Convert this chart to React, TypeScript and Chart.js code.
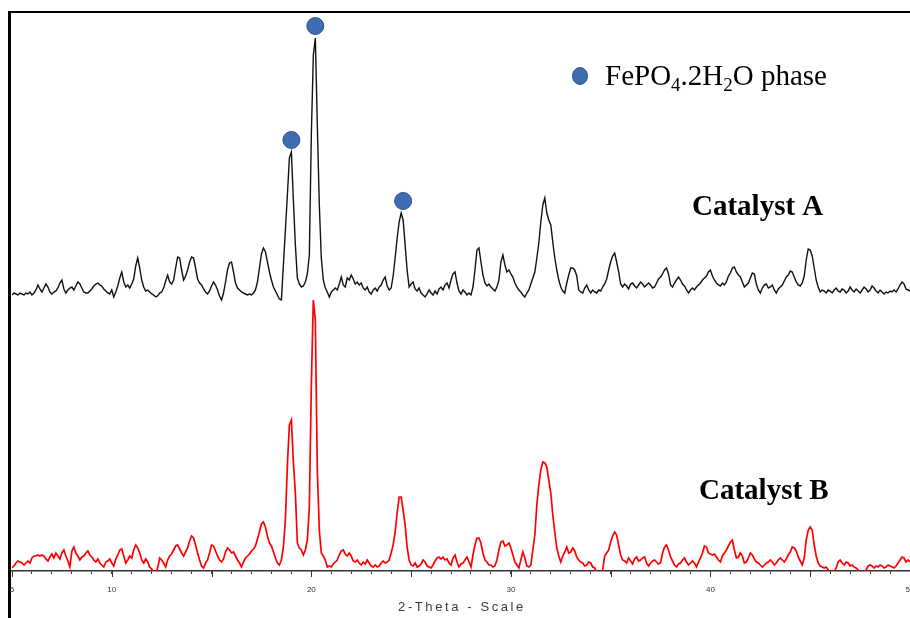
import { useEffect, useRef } from 'react';
import { Chart, registerables } from 'chart.js';

Chart.register(...registerables);

// Scan grid: 2-theta from 5 to 50 degrees in 0.1 degree steps
const THETA_START = 5;
const THETA_STEP = 0.1;

// Catalyst A intensities (a.u.), one value per step
const CATALYST_A = [
  11, 13, 12, 11, 13, 12, 11, 13, 12, 14,
  11, 13, 16, 21, 17, 14, 18, 22, 19, 14,
  12, 14, 15, 18, 23, 26, 17, 13, 16, 18,
  19, 16, 20, 24, 22, 18, 14, 13, 13, 15,
  17, 20, 22, 23, 21, 20, 17, 15, 13, 12,
  16, 9, 14, 20, 28, 34, 24, 19, 21, 18,
  22, 27, 40, 48, 38, 26, 19, 15, 16, 14,
  12, 11, 9, 10, 13, 14, 18, 25, 31, 24,
  22, 26, 38, 49, 48, 36, 26, 30, 36, 44,
  49, 48, 38, 27, 23, 21, 17, 14, 12, 15,
  20, 24, 21, 16, 10, 6, 13, 24, 36, 43,
  44, 34, 23, 18, 16, 14, 13, 12, 11, 12,
  11, 13, 16, 24, 38, 52, 58, 54, 44, 34,
  26, 19, 15, 11, 7, 6, 41, 76, 111, 148,
  154, 106, 61, 28, 22, 19, 20, 24, 32, 51,
  171, 251, 268, 181, 101, 48, 26, 18, 14, 9,
  14, 16, 18, 16, 22, 29, 21, 19, 28, 26,
  31, 27, 22, 24, 21, 23, 18, 16, 19, 14,
  12, 16, 18, 15, 19, 21, 26, 29, 20, 16,
  18, 30, 48, 68, 84, 93, 86, 61, 36, 19,
  22, 24, 17, 15, 18, 13, 11, 9, 12, 16,
  13, 11, 15, 12, 17, 19, 16, 21, 23, 18,
  26, 32, 34, 23, 15, 12, 16, 14, 11, 13,
  11, 19, 36, 56, 58, 44, 31, 23, 20, 22,
  19, 17, 15, 19, 26, 44, 51, 41, 34, 36,
  32, 29, 23, 19, 16, 14, 11, 9, 13, 16,
  22, 28, 34, 48, 63, 84, 101, 108, 93, 86,
  81, 64, 48, 36, 26, 19, 15, 13, 23, 31,
  38, 38, 36, 30, 16, 14, 13, 18, 21, 16,
  13, 16, 14, 13, 16, 15, 19, 22, 27, 36,
  44, 50, 53, 44, 34, 22, 19, 22, 20, 17,
  22, 23, 20, 18, 21, 24, 22, 19, 21, 23,
  21, 18, 19, 23, 27, 29, 32, 36, 38, 32,
  21, 19, 23, 26, 29, 26, 22, 20, 16, 13,
  16, 18, 16, 19, 21, 23, 26, 28, 30, 34,
  36, 30, 26, 23, 21, 20, 23, 21, 24, 30,
  33, 38, 39, 34, 31, 29, 24, 19, 21, 23,
  28, 33, 32, 22, 16, 13, 18, 21, 22, 18,
  19, 21, 16, 13, 17, 19, 21, 25, 29, 31,
  35, 34, 29, 24, 21, 20, 23, 30, 46, 57,
  56, 50, 38, 26, 19, 14, 16, 15, 13, 16,
  15, 13, 16, 18, 15, 14, 17, 16, 13, 15,
  19, 16, 14, 17, 15, 13, 16, 19, 17, 14,
  16, 20, 18, 15, 13, 16, 14, 12, 14, 13,
  15, 14, 16, 14, 17, 21, 24, 22, 17, 16,
  15,
];

// Catalyst B intensities (a.u.), one value per step
const CATALYST_B = [
  3, 5, 8, 10, 9, 8, 6, 8, 10, 8,
  13, 15, 15, 16, 15, 16, 15, 12, 10, 14,
  17, 13, 18, 15, 12, 18, 21, 15, 10, 4,
  20, 24, 18, 15, 11, 14, 15, 18, 20, 16,
  14, 11, 9, 12, 8, 6, 4, 9, 10, 12,
  8, 5, 12, 16, 21, 22, 15, 8, 11, 15,
  13, 21, 26, 23, 18, 11, 8, 12, 9, 4,
  2, -1, -2, 3, 13, 11, 8, 4, 11, 15,
  17, 21, 25, 26, 22, 18, 15, 19, 23, 30,
  35, 33, 26, 18, 11, 5, 3, 8, 11, 18,
  26, 25, 20, 15, 11, 9, 12, 19, 23, 21,
  18, 19, 15, 11, 8, 4, 9, 13, 15, 17,
  20, 22, 25, 32, 39, 47, 49, 44, 35, 28,
  25, 19, 13, 8, 6, 11, 24, 51, 106, 146,
  151, 109, 78, 28, 23, 21, 16, 21, 31, 64,
  186, 271, 251, 101, 41, 18, 15, 11, 4, 5,
  4, 7, 9, 11, 16, 20, 21, 17, 15, 18,
  15, 10, 9, 11, 8, 6, 9, 7, 11, 8,
  5, 4, 6, 4, 5, 8, 10, 8, 9, 11,
  18, 26, 39, 58, 74, 74, 61, 46, 24, 11,
  6, 5, 8, 4, 5, 7, 11, 9, 5, 4,
  3, 6, 10, 13, 14, 12, 14, 11, 12, 8,
  6, 13, 16, 9, 4, 7, 8, 11, 14, 9,
  4, 16, 26, 33, 33, 28, 18, 11, 9, 6,
  6, 4, 5, 11, 21, 29, 30, 25, 26, 28,
  23, 16, 9, 6, 3, 11, 19, 13, 5, 4,
  6, 21, 36, 66, 86, 101, 109, 108, 104, 91,
  78, 56, 39, 23, 15, 9, 15, 19, 24, 18,
  19, 23, 20, 14, 11, 9, 8, 5, 6, 9,
  8, 4, 3, -1, -2, -2, 1, 15, 18, 21,
  29, 35, 39, 36, 26, 16, 11, 10, 8, 13,
  10, 7, 12, 14, 10, 11, 13, 14, 8, 5,
  8, 10, 11, 9, 7, 8, 18, 24, 26, 21,
  14, 10, 6, 4, 7, 8, 11, 13, 9, 6,
  8, 10, 8, 4, 9, 13, 18, 25, 24, 18,
  17, 16, 17, 14, 11, 9, 15, 18, 21, 25,
  29, 31, 21, 13, 14, 18, 15, 8, 9, 13,
  18, 16, 12, 9, 8, 6, 4, 6, 8, 9,
  11, 9, 6, 8, 11, 13, 11, 9, 12, 16,
  19, 24, 23, 20, 14, 10, 6, 13, 31, 41,
  44, 41, 26, 15, 8, 5, 4, 3, 4, 1,
  -2, -2, -1, 3, 9, 11, 8, 6, 9, 8,
  5, 6, 4, 3, 1, -1, -2, -1, 1, 5,
  6, 5, 3, 5, 4, 6, 5, 3, 4, 6,
  5, 4, 3, 5, 8, 11, 14, 13, 9, 11,
  9,
];

// Vertical shift that stacks Catalyst A above Catalyst B
const A_OFFSET = 265;

// Reflections assigned to the FePO4.2H2O phase (2-theta, degrees)
const PHASE_PEAKS = [19.0, 20.2, 24.6];

// Axis ticks
const X_LABELS = [5, 10, 20, 30, 40, 50];
const MAJOR_TICKS = [5, 10, 15, 20, 25, 30, 35, 40, 45, 50];

const SERIES_A_NAME = 'Catalyst A';
const SERIES_B_NAME = 'Catalyst B';
const AXIS_TITLE = '2-Theta - Scale';

const MARKER_FILL = '#3f6db2';
const MARKER_EDGE = '#2c5491';
const SERIF = '"Liberation Serif", "Times New Roman", serif';
const SANS = '"Liberation Sans", Arial, sans-serif';

const thetaAt = (i: number) => Math.round((THETA_START + i * THETA_STEP) * 10) / 10;

// Marker sits just above the local maximum of the Catalyst A trace
function markerY(theta: number) {
  const c = Math.round((theta - THETA_START) / THETA_STEP);
  let m = -Infinity;
  for (let k = c - 2; k <= c + 2; k++) {
    if (k >= 0 && k < CATALYST_A.length) m = Math.max(m, CATALYST_A[k]);
  }
  return m + A_OFFSET + 12;
}

type Run = { t: string; sub?: boolean };

function drawRuns(ctx: CanvasRenderingContext2D, x: number, y: number, runs: Run[], size: number) {
  for (const r of runs) {
    const s = r.sub ? Math.round(size * 0.64) : size;
    ctx.font = `${s}px ${SERIF}`;
    ctx.fillText(r.t, x, r.sub ? y + size * 0.2 : y);
    x += ctx.measureText(r.t).width;
  }
}

const overlay = {
  id: 'xrdOverlay',
  afterDraw(chart: any) {
    const { ctx, chartArea } = chart;
    const xs = chart.scales.x;
    ctx.save();

    // frame: heavy left rule and top rule
    ctx.fillStyle = '#000';
    ctx.fillRect(chartArea.left - 4, chartArea.top, 3, chart.height - chartArea.top);
    ctx.fillRect(chartArea.left - 4, chartArea.top, chartArea.right - chartArea.left + 4, 2);

    // longer major ticks every 5 degrees
    ctx.strokeStyle = '#333';
    ctx.lineWidth = 1;
    for (const v of MAJOR_TICKS) {
      const px = Math.round(xs.getPixelForValue(v)) + 0.5;
      ctx.beginPath();
      ctx.moveTo(px, chartArea.bottom);
      ctx.lineTo(px, chartArea.bottom + 6);
      ctx.stroke();
    }

    // axis title
    ctx.fillStyle = '#3a3a3a';
    ctx.font = `13px ${SANS}`;
    (ctx as any).letterSpacing = '2.6px';
    ctx.textAlign = 'center';
    ctx.textBaseline = 'middle';
    ctx.fillText(AXIS_TITLE, (chartArea.left + chartArea.right) / 2 + 1, 607);
    (ctx as any).letterSpacing = '0px';

    // legend for the phase markers
    ctx.beginPath();
    ctx.ellipse(580, 76, 7.5, 8.5, 0, 0, Math.PI * 2);
    ctx.fillStyle = MARKER_FILL;
    ctx.fill();
    ctx.strokeStyle = MARKER_EDGE;
    ctx.lineWidth = 1;
    ctx.stroke();

    ctx.fillStyle = '#000';
    ctx.textAlign = 'left';
    ctx.textBaseline = 'alphabetic';
    drawRuns(ctx, 605, 85, [
      { t: 'FePO' }, { t: '4', sub: true }, { t: '.2H' }, { t: '2', sub: true }, { t: 'O phase' },
    ], 29);

    // series labels
    ctx.font = `bold 29px ${SERIF}`;
    ctx.fillText(SERIES_A_NAME, 692, 215);
    ctx.fillText(SERIES_B_NAME, 699, 499);

    ctx.restore();
  },
};

export default function App() {
  const canvasRef = useRef<HTMLCanvasElement | null>(null);

  useEffect(() => {
    const canvas = canvasRef.current;
    if (!canvas) return;

    const dataA = CATALYST_A.map((v, i) => ({ x: thetaAt(i), y: v + A_OFFSET }));
    const dataB = CATALYST_B.map((v, i) => ({ x: thetaAt(i), y: v }));
    const markers = PHASE_PEAKS.map((t) => ({ x: t, y: markerY(t) }));

    const chart = new Chart(canvas, {
      type: 'line',
      data: {
        datasets: [
          {
            label: 'FePO4.2H2O phase',
            data: markers,
            showLine: false,
            pointRadius: 8.5,
            pointHoverRadius: 8.5,
            pointBackgroundColor: MARKER_FILL,
            pointBorderColor: MARKER_EDGE,
            pointBorderWidth: 1,
            order: 0,
          },
          {
            label: SERIES_A_NAME,
            data: dataA,
            borderColor: '#111111',
            borderWidth: 1.4,
            pointRadius: 0,
            tension: 0,
            order: 1,
          },
          {
            label: SERIES_B_NAME,
            data: dataB,
            borderColor: '#ff0000',
            borderWidth: 1.7,
            pointRadius: 0,
            tension: 0,
            order: 2,
          },
        ],
      },
      options: {
        animation: false,
        responsive: false,
        events: [],
        layout: { autoPadding: false, padding: { top: 11, left: 12, right: 0, bottom: 0 } },
        plugins: {
          legend: { display: false },
          tooltip: { enabled: false },
          title: { display: false },
        },
        scales: {
          x: {
            type: 'linear',
            min: 5,
            max: 50,
            border: { display: true, color: '#333', width: 1.5 },
            grid: {
              drawOnChartArea: false,
              drawTicks: true,
              tickLength: 3,
              tickColor: '#333',
              tickWidth: 1,
            },
            ticks: {
              stepSize: 1,
              autoSkip: false,
              maxRotation: 0,
              padding: 11,
              color: '#333',
              font: { family: SANS, size: 8 },
              callback: (v: any) => (X_LABELS.includes(Number(v)) ? String(v) : ''),
            },
            afterFit: (scale: any) => {
              scale.height = 47;
              scale.paddingLeft = 0;
              scale.paddingRight = 0;
            },
          },
          y: {
            display: false,
            min: 0,
            max: 560,
          },
        },
      },
      plugins: [overlay],
    });

    return () => chart.destroy();
  }, []);

  return (
    <div style={{ position: 'fixed', left: 0, top: 0, width: 910, height: 618, background: '#fff' }}>
      <canvas ref={canvasRef} width={910} height={618} />
    </div>
  );
}
